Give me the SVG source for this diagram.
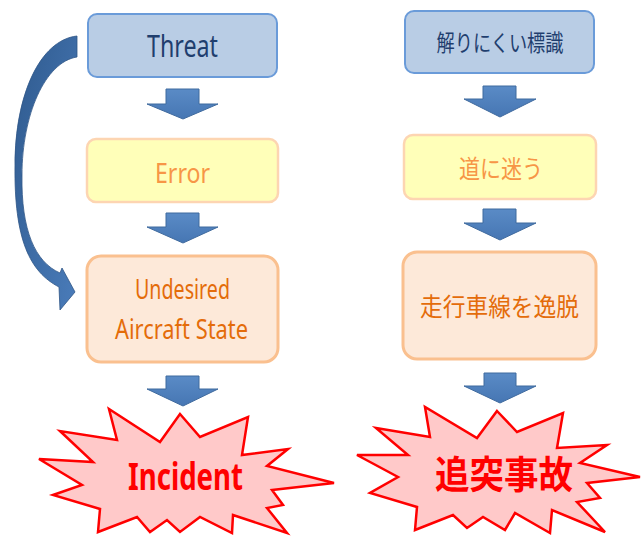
<svg xmlns="http://www.w3.org/2000/svg" width="642" height="536" viewBox="0 0 642 536">
<defs>
<linearGradient id="gBlue" x1="0" y1="0" x2="0" y2="1">
<stop offset="0" stop-color="#5A8BC6"/><stop offset="1" stop-color="#4676B3"/>
</linearGradient>
<linearGradient id="gCurve" x1="0" y1="0" x2="1" y2="1">
<stop offset="0" stop-color="#2F5A8E"/><stop offset="1" stop-color="#4A7CBA"/>
</linearGradient>
<style>
.threat{fill:#B9CDE5;stroke:#6A9BD9;stroke-width:2}
.err{fill:#FFFFB9;stroke:#FDD5B2;stroke-width:2.5}
.uas{fill:#FDE9D9;stroke:#FAC08F;stroke-width:3}
.boom{fill:#FFC9C9;stroke:#FF0000;stroke-width:2.5;stroke-linejoin:miter}
.darr{fill:url(#gBlue);stroke:#3F6A9E;stroke-width:1}
.lat{font-family:"Noto Sans","Liberation Sans",sans-serif;text-anchor:middle}
.jp{font-family:"Noto Sans CJK JP",sans-serif;text-anchor:middle}
.t1{fill:#1F3E6E}
.t2{fill:#F79646}
.t3{fill:#E46C0A}
.red{fill:#FF0000;font-weight:bold}
</style>
</defs>
<rect width="642" height="536" fill="#FFFFFF"/>

<g id="connectors">
<path d="M77,36 C40,40 15,95 15,165 C14,240 30,272 59,287 L60,310 L75,292 L62,268 L60,273 C35,262 21,230 22,175 C22,115 45,62 77,57 Z" fill="url(#gCurve)" stroke="#2E5587" stroke-width="0.8"/>
<polygon class="darr" points="166,89 199,89 199,104 218,104 183,119 147,104 166,104"/>
<polygon class="darr" points="166,213 199,213 199,227 218,227 183,243 147,227 166,227"/>
<polygon class="darr" points="166,376 199,376 199,389 218,389 183,406 147,389 166,389"/>
<polygon class="darr" points="483,86 516,86 516,99 536,99 500,117 464,99 483,99"/>
<polygon class="darr" points="483,209 516,209 516,223 536,223 500,240 464,223 483,223"/>
<polygon class="darr" points="484,373 516,373 516,386 536,386 500,403 464,386 484,386"/>
</g>

<g id="threat">
<rect class="threat" x="88" y="14" width="189" height="63" rx="9"/>
<text class="lat t1" x="182.5" y="57" font-size="30" textLength="71" lengthAdjust="spacingAndGlyphs">Threat</text>
</g>
<g id="error">
<rect class="err" x="87" y="139" width="191" height="63" rx="9"/>
<text class="lat t2" x="182.5" y="183" font-size="27" textLength="55" lengthAdjust="spacingAndGlyphs">Error</text>
</g>
<g id="undesired">
<rect class="uas" x="87" y="256" width="191" height="106" rx="14"/>
<text class="lat t3" x="182.5" y="299" font-size="27" textLength="95" lengthAdjust="spacingAndGlyphs">Undesired</text>
<text class="lat t3" x="181.5" y="339" font-size="27" textLength="133" lengthAdjust="spacingAndGlyphs">Aircraft State</text>
</g>
<g id="incident">
<polygon class="boom" points="180,414 200,437 248,417 242,455 288,449 267,466 334,483 272,490 283,505 267,508 287,533 233,515 232,533 200,517 180,532 167,520 150,532 137,517 98,532 100,509 53,495 82,485 39,459 93,462 60,431 117,440 109,409 160,442"/>
<text class="lat red" x="185.5" y="490" font-size="37" font-family="Liberation Sans" textLength="115" lengthAdjust="spacingAndGlyphs">Incident</text>
</g>

<g id="sign">
<rect class="threat" x="405" y="11" width="189" height="62" rx="9"/>
<text class="jp t1" x="500" y="51" font-size="23" textLength="127" lengthAdjust="spacingAndGlyphs">解りにくい標識</text>
</g>
<g id="lost">
<rect class="err" x="404" y="135" width="192" height="64" rx="9"/>
<text class="jp t2" x="501" y="178" font-size="25" textLength="84" lengthAdjust="spacingAndGlyphs">道に迷う</text>
</g>
<g id="lane">
<rect class="uas" x="403" y="252" width="193" height="107" rx="14"/>
<text class="jp t3" x="499.5" y="316" font-size="25" textLength="159" lengthAdjust="spacingAndGlyphs">走行車線を逸脱</text>
</g>
<g id="crash">
<polygon class="boom" points="497,411 517,432 563,413 557,448 607,445 580,463 640,477 587,483 600,498 577,502 605,532 552,510 550,533 515,513 505,530 483,517 467,528 453,515 415,530 417,507 370,493 398,477 357,455 408,455 376,428 430,437 425,407 477,438"/>
<text class="jp red" x="504" y="488" font-size="38" textLength="138" lengthAdjust="spacingAndGlyphs">追突事故</text>
</g>
</svg>
